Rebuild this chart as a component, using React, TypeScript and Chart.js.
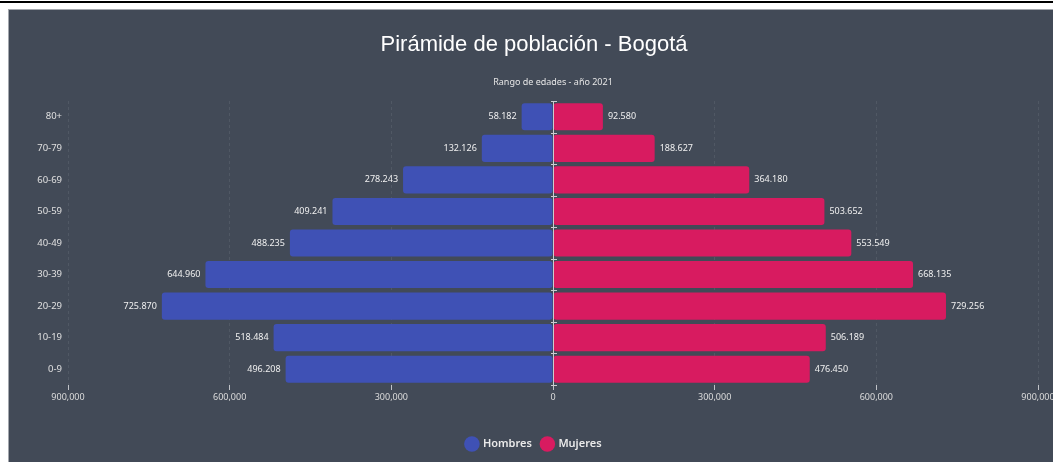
import React, { useEffect, useRef } from 'react';
import { Chart, registerables } from 'chart.js';

Chart.register(...registerables);

const categories = ['80+', '70-79', '60-69', '50-59', '40-49', '30-39', '20-29', '10-19', '0-9'];
const hombres = [58182, 132126, 278243, 409241, 488235, 644960, 725870, 518484, 496208];
const mujeres = [92580, 188627, 364180, 503652, 553549, 668135, 729256, 506189, 476450];
const xMin = -900000;
const xMax = 900000;
const xStep = 300000;

const fmt = (v: number, sep: string) =>
  Math.abs(Math.round(v)).toString().replace(/\B(?=(\d{3})+(?!\d))/g, sep);

const zeroLinePlugin = {
  id: 'zeroLine',
  afterDatasetsDraw(chart: any) {
    const { ctx, chartArea, scales } = chart;
    const x0 = scales.x.getPixelForValue(0);
    ctx.save();
    ctx.strokeStyle = '#c9ccd1';
    ctx.lineWidth = 1;
    ctx.beginPath();
    ctx.moveTo(Math.round(x0) + 0.5, chartArea.top);
    ctx.lineTo(Math.round(x0) + 0.5, chartArea.bottom);
    ctx.stroke();
    for (let i = 0; i <= categories.length; i++) {
      const y = Math.round(scales.y.getPixelForValue(i - 0.5)) + 0.5;
      ctx.beginPath();
      ctx.moveTo(Math.round(x0) - 2, y);
      ctx.lineTo(Math.round(x0) + 4, y);
      ctx.stroke();
    }
    ctx.restore();
  },
};

const barLabelPlugin = {
  id: 'barLabels',
  afterDatasetsDraw(chart: any) {
    const ctx = chart.ctx;
    ctx.save();
    ctx.font = '9px "Noto Sans"';
    ctx.fillStyle = '#f0f0f0';
    ctx.textBaseline = 'middle';
    chart.data.datasets.forEach((ds: any, di: number) => {
      const meta = chart.getDatasetMeta(di);
      meta.data.forEach((bar: any, i: number) => {
        const v = ds.data[i] as number;
        const txt = fmt(v, '.');
        if (v < 0) {
          ctx.textAlign = 'right';
          ctx.fillText(txt, bar.x - 5, bar.y);
        } else {
          ctx.textAlign = 'left';
          ctx.fillText(txt, bar.x + 5, bar.y);
        }
      });
    });
    ctx.restore();
  },
};

export default function App() {
  const ref = useRef<HTMLCanvasElement | null>(null);

  useEffect(() => {
    if (!ref.current) return;
    const chart = new Chart(ref.current, {
      type: 'bar',
      data: {
        labels: categories,
        datasets: [
          {
            label: 'Hombres',
            data: hombres.map((v) => -v),
            backgroundColor: '#3f51b5',
            borderWidth: 0,
            borderRadius: 3,
            borderSkipped: false,
          },
          {
            label: 'Mujeres',
            data: mujeres,
            backgroundColor: '#d81b60',
            borderWidth: 0,
            borderRadius: 3,
            borderSkipped: false,
          },
        ],
      },
      options: {
        animation: false,
        responsive: false,
        indexAxis: 'y',
        datasets: { bar: { categoryPercentage: 0.86, barPercentage: 1 } },
        layout: { padding: { top: 0, left: 0, right: 0, bottom: 10.5 } },
        scales: {
          x: {
            type: 'linear',
            stacked: true,
            min: xMin,
            max: xMax,
            ticks: {
              stepSize: xStep,
              color: '#dcdcdc',
              font: { family: 'Noto Sans', size: 9 },
              padding: 2,
              maxRotation: 0,
              callback: (v: any) => fmt(Number(v), ','),
            },
            grid: {
              color: 'rgba(255,255,255,0.08)',
              tickColor: '#c0c3c8',
              tickLength: 5,
              tickBorderDash: [],
            },
            border: { display: false, dash: [3, 3] },
            afterFit: (s: any) => {
              s.height = 43.5;
            },
          },
          y: {
            type: 'category',
            stacked: true,
            ticks: {
              color: '#e0e0e0',
              font: { family: 'Noto Sans', size: 9.5 },
              padding: 6,
            },
            grid: { display: false, drawTicks: false },
            border: { display: false },
            afterFit: (s: any) => {
              s.width = 59;
            },
          },
          yR: {
            type: 'category',
            position: 'right',
            labels: categories,
            ticks: { display: false },
            grid: { display: false, drawTicks: false },
            border: { display: false },
            afterFit: (s: any) => {
              s.width = 21;
            },
          },
        },
        plugins: {
          title: {
            display: true,
            text: 'Pirámide de población - Bogotá',
            color: '#ffffff',
            fullSize: true,
            font: { family: 'Liberation Sans', size: 22, weight: 'normal' },
            padding: { top: 21.8, bottom: 8.8 },
          },
          subtitle: {
            display: true,
            text: 'Rango de edades - año 2021',
            color: '#e6e6e6',
            fullSize: false,
            font: { family: 'Noto Sans', size: 9, weight: 'normal' },
            padding: { top: 9.6, bottom: 13.6 },
          },
          legend: {
            position: 'bottom',
            fullSize: true,
            labels: {
              usePointStyle: true,
              pointStyle: 'circle',
              boxWidth: 11,
              boxHeight: 11,
              color: '#eaeaea',
              font: { family: 'Noto Sans', size: 11, weight: '600' },
              padding: 10,
            },
          },
          tooltip: { enabled: false },
        },
      },
      plugins: [zeroLinePlugin, barLabelPlugin],
    } as any);
    return () => chart.destroy();
  }, []);

  return (
    <div>
      <div style={{ position: 'fixed', top: 1, left: 0, right: 0, height: 2, background: '#000' }} />
      <div
        style={{
          position: 'fixed',
          left: 8,
          top: 9,
          right: 0,
          bottom: 0,
          background: '#424a57',
          borderLeft: '1px solid #a3a7ad',
          borderTop: '1px solid #a3a7ad',
          overflow: 'hidden',
        }}
      >
        <canvas ref={ref} width={1050} height={460} style={{ display: 'block', width: 1050, height: 460 }} />
      </div>
    </div>
  );
}
